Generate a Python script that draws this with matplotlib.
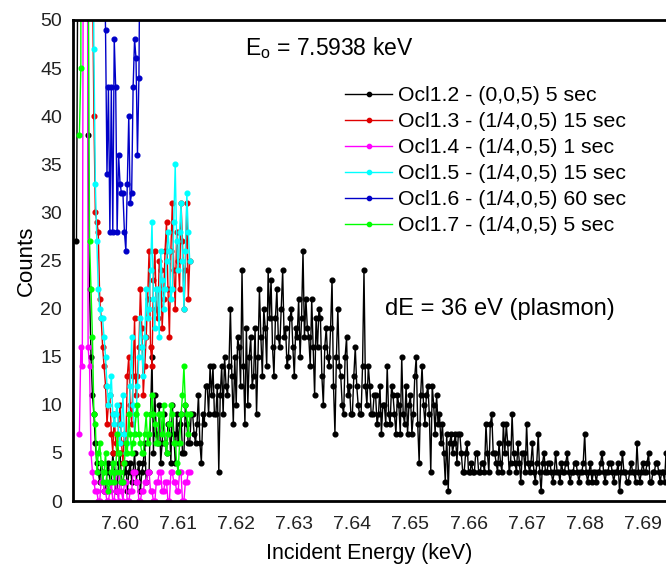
import numpy as np
import matplotlib
matplotlib.use("Agg")
import matplotlib.pyplot as plt

plt.rcParams["font.family"] = ["Liberation Sans", "DejaVu Sans"]

# ── data (counts) ──────────────────────────────────────────────────────
# Ocl1.2 long scan, 0.25 eV steps starting at 7.5925 keV
black_start, black_step = 7.5925, 0.00025
black_counts = [
    27, 60, 180, 500, 900, 700, 260, 90, 38, 22, 15, 11, 9, 6, 4, 3, 2, 4, 3, 1,
    1, 3, 4, 2, 2, 5, 3, 1, 1, 4, 5, 2, 2, 3, 4, 1, 3, 4, 2, 3,
    5, 2, 3, 4, 1, 3, 4, 6, 2, 3, 3, 9, 15, 5, 11, 7, 6, 10, 4, 6,
    9, 6, 5, 8, 8, 4, 10, 7, 4, 9, 6, 8, 9, 5, 5, 10, 8, 6, 6, 9,
    9, 7, 6, 8, 11, 6, 4, 9, 8, 12, 12, 9, 14, 11, 14, 9, 9, 12, 3, 11,
    14, 9, 15, 12, 11, 14, 20, 13, 8, 15, 10, 17, 16, 12, 24, 14, 8, 18, 10, 15,
    17, 12, 13, 18, 9, 15, 22, 17, 13, 20, 18, 14, 24, 19, 23, 16, 13, 19, 22, 17,
    16, 20, 24, 17, 18, 14, 15, 19, 20, 16, 13, 18, 17, 21, 15, 19, 26, 17, 21, 18,
    17, 14, 21, 16, 11, 19, 16, 20, 19, 13, 10, 16, 18, 15, 14, 18, 23, 12, 7, 15,
    20, 14, 13, 10, 9, 15, 17, 11, 12, 9, 9, 13, 16, 12, 10, 9, 9, 14, 24, 12,
    10, 14, 12, 9, 9, 11, 11, 8, 9, 12, 7, 10, 10, 8, 14, 9, 8, 12, 11, 9,
    7, 11, 10, 7, 15, 9, 8, 12, 7, 10, 11, 7, 9, 13, 15, 8, 4, 11, 14, 10,
    8, 11, 12, 9, 3, 12, 10, 7, 11, 8, 9, 6, 8, 5, 2, 7, 1, 6, 7, 5,
    6, 7, 4, 7, 7, 5, 3, 3, 5, 6, 3, 3, 4, 3, 3, 5, 5, 3, 3, 4,
    4, 3, 8, 5, 3, 8, 9, 5, 5, 4, 3, 6, 4, 3, 8, 5, 8, 6, 3, 4,
    9, 5, 4, 3, 6, 4, 2, 5, 5, 3, 8, 4, 3, 4, 6, 3, 2, 4, 7, 3,
    1, 4, 5, 3, 3, 4, 4, 3, 2, 3, 5, 3, 3, 2, 4, 3, 3, 4, 5, 3,
    2, 3, 3, 4, 4, 3, 2, 3, 3, 4, 7, 3, 2, 3, 4, 2, 3, 3, 2, 3,
    3, 4, 5, 3, 2, 3, 3, 4, 4, 3, 2, 3, 3, 4, 1, 3, 5, 3, 3, 2,
    2, 3, 4, 3, 3, 2, 6, 3, 2, 3, 4, 3, 3, 4, 5, 2, 2, 3, 3, 4,
    4, 3, 2, 3, 3, 2, 5, 3, 3,
]

# short (1/4,0,5) scans, 0.25 eV steps starting at 7.5930 keV
short_start, short_step = 7.5930, 0.00025
red_counts = [
    60, 200, 400, 800, 1200, 900, 500, 250, 100, 55,
    40, 30, 29, 28, 21, 19, 16, 14, 12, 8,
    10, 11, 7, 5, 9, 6, 5, 8, 10, 6,
    4, 7, 6, 13, 15, 10, 8, 13, 19, 11,
    13, 16, 22, 18, 11, 14, 17, 21, 26, 16,
    14, 23, 26, 20, 19, 25, 24, 18, 21, 26,
    29, 22, 17, 26, 31, 24, 20, 28, 25, 22,
    31, 27, 20, 24, 31, 21, 25,
]
magenta_counts = [
    7, 16, 14, 80, 200, 120, 16, 14, 5, 3,
    2, 1, 1, 0, 0, 2, 3, 1, 1, 0,
    0, 1, 2, 0, 0, 3, 1, 0, 3, 1,
    0, 2, 2, 0, 0, 1, 1, 3, 3, 2,
    2, 0, 0, 1, 1, 2, 2, 3, 3, 1,
    1, 0, 0, 2, 2, 3, 3, 1, 1, 2,
    2, 0, 0, 3, 3, 2, 2, 1, 1, 3,
    3, 0, 0, 2, 2, 3, 3,
]
cyan_counts = [
    80, 250, 500, 1000, 1500, 1000, 600, 300, 120, 70,
    47, 33, 27, 22, 20, 19, 19, 17, 15, 12,
    10, 11, 13, 9, 8, 9, 10, 7, 6, 8,
    11, 7, 5, 6, 9, 12, 17, 10, 7, 9,
    12, 15, 19, 16, 13, 17, 22, 19, 20, 24,
    29, 21, 18, 22, 22, 17, 26, 23, 20, 22,
    25, 28, 26, 21, 22, 29, 35, 27, 24, 28,
    31, 25, 20, 26, 32, 28, 25,
]
green_counts = [
    38, 45, 300, 900, 700, 300, 60, 27, 22, 17,
    9, 8, 3, 5, 6, 4, 2, 3, 5, 2,
    1, 2, 3, 4, 2, 3, 7, 5, 3, 2,
    2, 4, 6, 5, 9, 7, 5, 6, 7, 9,
    10, 7, 6, 5, 5, 7, 9, 6, 7, 9,
    11, 9, 8, 6, 6, 9, 9, 7, 10, 6,
    5, 7, 8, 10, 9, 6, 6, 4, 3, 6,
    9, 11, 14, 10, 9, 7, 9,
]

# Ocl1.6, 60 sec scan, 0.25 eV steps starting at 7.5970 keV
blue_start, blue_step = 7.5970, 0.00025
blue_counts = [
    70, 60, 49, 34, 43, 28, 43, 28, 48, 43,
    28, 36, 33, 32, 32, 28, 26, 33, 40, 31,
    32, 43, 48, 46, 36, 44, 65,
]

labels = [
    "Ocl1.2 - (0,0,5) 5 sec",
    "Ocl1.3 - (1/4,0,5) 15 sec",
    "Ocl1.4 - (1/4,0,5) 1 sec",
    "Ocl1.5 - (1/4,0,5) 15 sec",
    "Ocl1.6 - (1/4,0,5) 60 sec",
    "Ocl1.7 - (1/4,0,5) 5 sec",
]
colors = ["#000000", "#E00000", "#FF00FF", "#00FFFF", "#0000C8", "#00FF00"]


def energies(start, step, counts):
    return start + step * np.arange(len(counts))


series = [
    (energies(black_start, black_step, black_counts), black_counts),
    (energies(short_start, short_step, red_counts), red_counts),
    (energies(short_start, short_step, magenta_counts), magenta_counts),
    (energies(short_start, short_step, cyan_counts), cyan_counts),
    (energies(blue_start, blue_step, blue_counts), blue_counts),
    (energies(short_start, short_step, green_counts), green_counts),
]

# ── plot ────────────────────────────────────────────────────────────────
fig = plt.figure(figsize=(6.66, 5.64), dpi=100)
ax = fig.add_axes([73 / 666, 63 / 564, 593 / 666, 481 / 564])

for (x, y), c, lab in zip(series, colors, labels):
    ax.plot(x, y, color=c, lw=1.0, marker="o", ms=3.4, mec=c, mfc=c,
            label=lab)

ax.set_xlim(7.5919, 7.6940)
ax.set_ylim(0, 50)
ticks = np.arange(7.60, 7.695, 0.01)
ax.set_xticks(ticks)
ax.set_xticklabels([f"{v:.2f}" for v in ticks])
ax.set_yticks(np.arange(0, 51, 5))
ax.tick_params(length=0, labelsize=14, colors="#222222")
ax.tick_params(axis="x", pad=11)
ax.tick_params(axis="y", pad=8)

for s in ["left", "bottom", "top"]:
    ax.spines[s].set_linewidth(2.0)
ax.spines["right"].set_visible(False)

ax.set_xlabel("Incident Energy (keV)", fontsize=15.5, labelpad=7)
ax.set_ylabel("Counts", fontsize=16, labelpad=2)

ax.text(0.29, 0.942, "E$_{\\mathregular{o}}$ = 7.5938 keV", transform=ax.transAxes,
        fontsize=16.5, va="center", ha="left")
ax.text(0.526, 0.399, "dE = 36 eV (plasmon)", transform=ax.transAxes,
        fontsize=17, va="center", ha="left")

leg = ax.legend(loc="upper left", bbox_to_anchor=(0.459, 0.862),
                frameon=False, fontsize=15.3, numpoints=1,
                handlelength=2.2, handletextpad=0.3, labelspacing=0.33,
                borderpad=0, borderaxespad=0, markerscale=0.9)

fig.savefig("out.png", dpi=100)
